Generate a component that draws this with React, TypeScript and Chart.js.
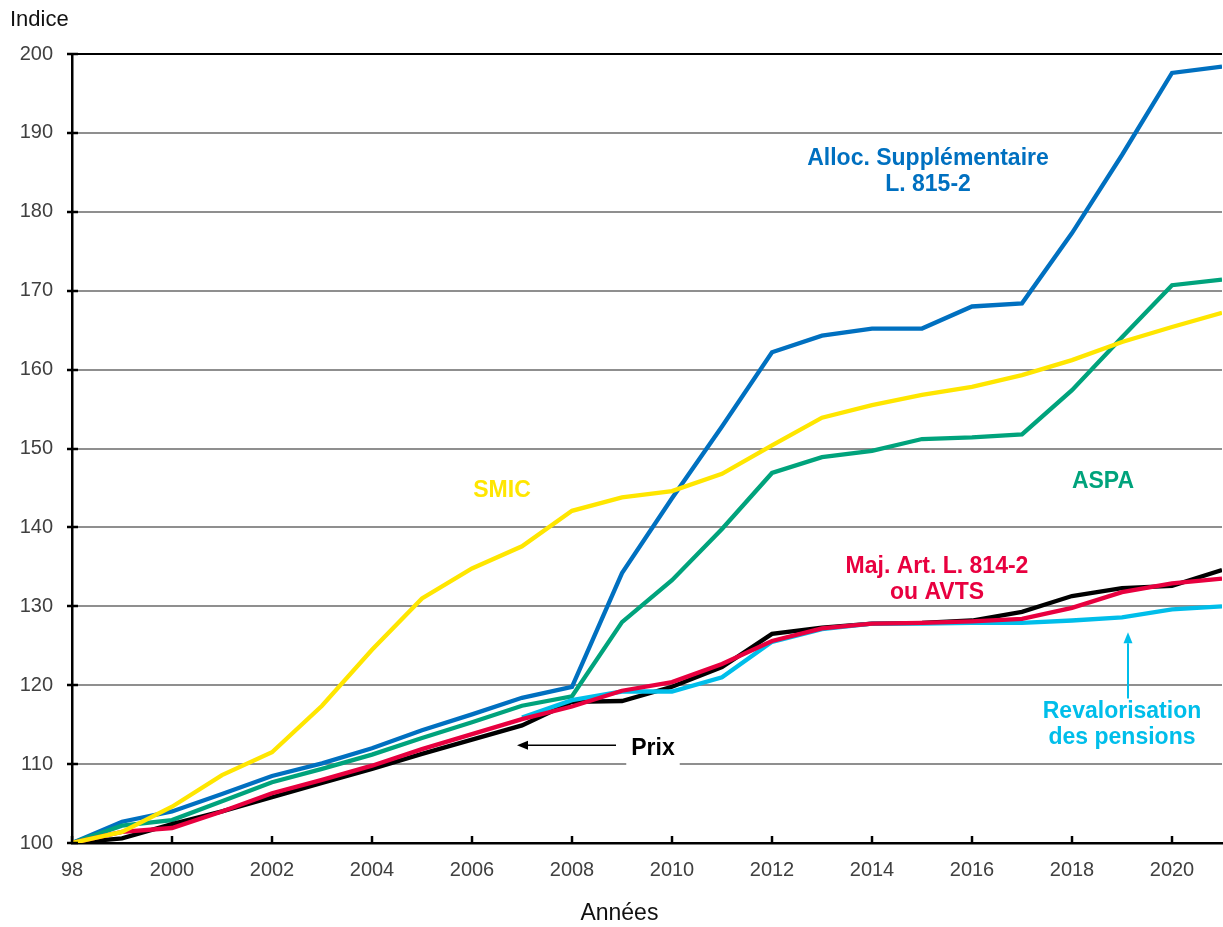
import React, { useEffect, useRef } from "react";
import { Chart, registerables } from "chart.js";

Chart.register(...registerables);

const years = [1998, 1999, 2000, 2001, 2002, 2003, 2004, 2005, 2006, 2007, 2008, 2009, 2010, 2011, 2012, 2013, 2014, 2015, 2016, 2017, 2018, 2019, 2020, 2021];

const smic = [100, 101.4, 104.6, 108.6, 111.5, 117.4, 124.5, 131.0, 134.8, 137.6, 142.1, 143.8, 144.6, 146.8, 150.4, 153.9, 155.5, 156.8, 157.8, 159.3, 161.2, 163.5, 165.4, 167.2];
const allocSupp = [100, 102.7, 104.0, 106.2, 108.5, 110.1, 112.0, 114.3, 116.3, 118.4, 119.8, 134.2, 143.7, 152.8, 162.2, 164.3, 165.2, 165.2, 168.0, 168.4, 177.3, 187.2, 197.6, 198.4];
const aspa = [100, 102.2, 102.9, 105.3, 107.7, 109.4, 111.2, 113.3, 115.3, 117.4, 118.6, 128.0, 133.3, 139.8, 146.9, 148.9, 149.7, 151.2, 151.4, 151.8, 157.4, 164.1, 170.7, 171.4];
const prix = [100, 100.6, 102.4, 104.0, 105.8, 107.6, 109.4, 111.3, 113.1, 114.9, 117.9, 118.0, 119.8, 122.3, 126.5, 127.3, 127.8, 127.9, 128.2, 129.3, 131.3, 132.3, 132.6, 134.6];
const majAvts = [100, 101.4, 101.9, 104.0, 106.3, 108.0, 109.8, 111.9, 113.8, 115.7, 117.3, 119.3, 120.4, 122.7, 125.6, 127.2, 127.8, 127.9, 128.1, 128.4, 129.8, 131.8, 132.9, 133.5];
const revalo = [null, null, null, null, null, null, null, null, null, 115.9, 118.1, 119.2, 119.2, 121.0, 125.5, 127.1, 127.8, 127.8, 127.9, 127.9, 128.2, 128.6, 129.6, 130.0];

const xTickValues = [1998, 2000, 2002, 2004, 2006, 2008, 2010, 2012, 2014, 2016, 2018, 2020];
const xTickLabels = ["98", "2000", "2002", "2004", "2006", "2008", "2010", "2012", "2014", "2016", "2018", "2020"];
const yTickValues = [100, 110, 120, 130, 140, 150, 160, 170, 180, 190, 200];

const COLORS = {
  smic: "#FFE600",
  alloc: "#0070C0",
  aspa: "#00A37C",
  prix: "#000000",
  maj: "#E8003F",
  revalo: "#00BEEA",
};

// Text annotations in data coordinates
const textNotes = [
  { lines: ["Alloc. Supplémentaire", "L. 815-2"], x: 2015.12, y: 186.7, color: COLORS.alloc },
  { lines: ["SMIC"], x: 2006.6, y: 144.6, color: COLORS.smic },
  { lines: ["ASPA"], x: 2018.62, y: 145.75, color: COLORS.aspa },
  { lines: ["Maj. Art. L. 814-2", "ou AVTS"], x: 2015.3, y: 135.0, color: COLORS.maj },
  { lines: ["Revalorisation", "des pensions"], x: 2019.0, y: 116.7, color: COLORS.revalo },
  { lines: ["Prix"], x: 2009.62, y: 112.0, color: "#000000", box: true },
];

const arrows = [
  { x1: 2008.88, y1: 112.4, x2: 2006.9, y2: 112.4, color: "#000000", width: 1.5 },
  { x1: 2019.12, y1: 118.3, x2: 2019.12, y2: 126.7, color: COLORS.revalo, width: 2 },
];

const FONT = "'Liberation Sans', Arial, sans-serif";

const toPoints = (vals: (number | null)[]) => years.map((y, i) => ({ x: y, y: vals[i] }));

const overlayPlugin = {
  id: "overlay",
  afterDraw(chart: any) {
    const { ctx, chartArea, scales } = chart;
    const xs = scales.x;
    const ys = scales.y;
    ctx.save();
    // tick marks
    ctx.strokeStyle = "#000";
    ctx.lineWidth = 2.5;
    xTickValues.forEach((v) => {
      const px = Math.round(xs.getPixelForValue(v));
      ctx.beginPath();
      ctx.moveTo(px, chartArea.bottom);
      ctx.lineTo(px, chartArea.bottom - 7);
      ctx.stroke();
    });
    yTickValues.forEach((v) => {
      const py = Math.round(ys.getPixelForValue(v));
      ctx.beginPath();
      ctx.moveTo(chartArea.left - 5, py);
      ctx.lineTo(chartArea.left + 6, py);
      ctx.stroke();
    });
    // arrows
    arrows.forEach((a) => {
      const x1 = xs.getPixelForValue(a.x1);
      const y1 = ys.getPixelForValue(a.y1);
      const x2 = xs.getPixelForValue(a.x2);
      const y2 = ys.getPixelForValue(a.y2);
      const ang = Math.atan2(y2 - y1, x2 - x1);
      const head = 11;
      const bx = x2 - head * Math.cos(ang);
      const by = y2 - head * Math.sin(ang);
      ctx.strokeStyle = a.color;
      ctx.fillStyle = a.color;
      ctx.lineWidth = a.width;
      ctx.beginPath();
      ctx.moveTo(x1, y1);
      ctx.lineTo(bx, by);
      ctx.stroke();
      ctx.beginPath();
      ctx.moveTo(x2, y2);
      ctx.lineTo(bx + 4.5 * Math.sin(ang), by - 4.5 * Math.cos(ang));
      ctx.lineTo(bx - 4.5 * Math.sin(ang), by + 4.5 * Math.cos(ang));
      ctx.closePath();
      ctx.fill();
    });
    // text notes
    ctx.font = `bold 23px ${FONT}`;
    ctx.textAlign = "center";
    ctx.textBaseline = "middle";
    textNotes.forEach((n) => {
      const cx = xs.getPixelForValue(n.x);
      const cy = ys.getPixelForValue(n.y);
      if (n.box) {
        const w = ctx.measureText(n.lines[0]).width + 10;
        ctx.fillStyle = "#ffffff";
        ctx.fillRect(cx - w / 2, cy - 14, w, 32);
      }
      ctx.fillStyle = n.color;
      n.lines.forEach((l, i) => ctx.fillText(l, cx, cy + i * 26));
    });
    // axis titles
    ctx.font = `22px ${FONT}`;
    ctx.fillStyle = "#111";
    ctx.textAlign = "left";
    ctx.fillText("Indice", 10, 20);
    ctx.font = `23px ${FONT}`;
    ctx.textAlign = "center";
    ctx.fillText("Années", chartArea.left + (chartArea.right - chartArea.left) * 0.476, 914);
    ctx.restore();
  },
};

export default function App() {
  const ref = useRef<HTMLCanvasElement | null>(null);
  useEffect(() => {
    document.body.style.margin = "0";
    const canvas = ref.current;
    if (!canvas) return;
    const ds = (label: string, data: (number | null)[], color: string) => ({
      label,
      data: toPoints(data),
      borderColor: color,
      backgroundColor: color,
      borderWidth: 4.3,
      pointRadius: 0,
      tension: 0,
      spanGaps: false,
    });
    const chart = new Chart(canvas, {
      type: "line",
      data: {
        datasets: [
          ds("SMIC", smic, COLORS.smic),
          ds("Maj. Art. L. 814-2 ou AVTS", majAvts, COLORS.maj),
          ds("Revalorisation des pensions", revalo, COLORS.revalo),
          ds("Prix", prix, COLORS.prix),
          ds("ASPA", aspa, COLORS.aspa),
          ds("Alloc. Supplémentaire L. 815-2", allocSupp, COLORS.alloc),
        ],
      },
      options: {
        animation: false,
        responsive: false,
        devicePixelRatio: 1,
        layout: { padding: { top: 54, right: 1, left: 0, bottom: 0 } },
        plugins: { legend: { display: false }, tooltip: { enabled: false }, title: { display: false } },
        scales: {
          x: {
            type: "linear",
            min: 1998,
            max: 2021,
            afterBuildTicks: (scale: any) => {
              scale.ticks = xTickValues.map((v) => ({ value: v }));
            },
            afterFit: (scale: any) => {
              scale.height = 84;
            },
            grid: { display: false, drawTicks: false },
            border: { display: true, color: "#000", width: 2.5 },
            ticks: {
              padding: 15,
              color: "#404040",
              font: { family: FONT, size: 20 },
              maxRotation: 0,
              autoSkip: false,
              callback: (v: any) => {
                const i = xTickValues.indexOf(Number(v));
                return i >= 0 ? xTickLabels[i] : "";
              },
            },
          },
          y: {
            type: "linear",
            min: 100,
            max: 200,
            afterBuildTicks: (scale: any) => {
              scale.ticks = yTickValues.map((v) => ({ value: v }));
            },
            afterFit: (scale: any) => {
              scale.width = 72;
            },
            grid: {
              drawTicks: false,
              lineWidth: 2,
              color: (c: any) => (c.tick && c.tick.value === 200 ? "#000" : "#8f8f8f"),
            },
            border: { display: true, color: "#000", width: 2.5 },
            ticks: {
              padding: 19,
              color: "#404040",
              font: { family: FONT, size: 20 },
            },
          },
        },
      },
      plugins: [overlayPlugin],
    });
    return () => chart.destroy();
  }, []);
  return <canvas ref={ref} width={1223} height={927} style={{ display: "block", width: 1223, height: 927 }} />;
}
